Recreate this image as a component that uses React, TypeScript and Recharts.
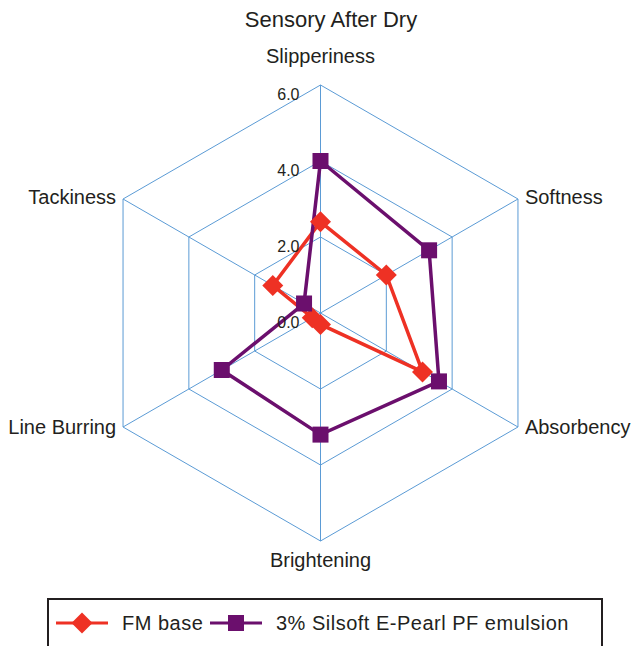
import { PolarAngleAxis, PolarGrid, PolarRadiusAxis, Radar, RadarChart, Legend } from 'recharts';

const CATEGORIES = ['Slipperiness', 'Softness', 'Absorbency', 'Brightening', 'Line Burring', 'Tackiness'];
const FM_BASE = [2.4, 2.0, 3.1, 0.3, 0.25, 1.45];
const SILSOFT = [4.0, 3.3, 3.6, 3.2, 3.0, 0.5];
const RADIUS_TICKS = [0, 2, 4, 6];

const SERIES = [
  { key: 'fm', name: 'FM base', color: '#ee3124', shape: 'diamond' },
  { key: 'silsoft', name: '3% Silsoft E-Pearl PF emulsion', color: '#6b0f6d', shape: 'square' },
];

const data = CATEGORIES.map((axis, i) => ({ axis, fm: FM_BASE[i], silsoft: SILSOFT[i] }));

const CX = 320.5;
const CY = 313;
const FONT = '"Liberation Sans", Arial, sans-serif';
const TEXT = '#231f20';
const GRID = '#5b9bd5';

function Marker({ shape, x, y, color }: { shape: string; x: number; y: number; color: string }) {
  if (shape === 'diamond') {
    const h = 10.5;
    return <path d={`M${x},${y - h}L${x + h},${y}L${x},${y + h}L${x - h},${y}Z`} fill={color} />;
  }
  const h = 8;
  return <rect x={x - h} y={y - h} width={h * 2} height={h * 2} fill={color} />;
}

function angleTick(props: any) {
  const { x, y, payload, textAnchor } = props;
  let dy = 9;
  if (textAnchor === 'middle') dy = y < CY ? -14 : 18;
  else if (y > CY) dy = 3;
  return (
    <text x={x} y={y} dy={dy} textAnchor={textAnchor} fontSize={20} fill={TEXT} fontFamily={FONT}>
      {payload.value}
    </text>
  );
}

function radiusTick(props: any) {
  const { x, y, payload } = props;
  return (
    <text x={x - 21} y={y} dy={15} textAnchor="end" fontSize={16} fill={TEXT} fontFamily={FONT}>
      {Number(payload.value).toFixed(1)}
    </text>
  );
}

function LegendBox() {
  return (
    <div
      style={{
        boxSizing: 'border-box',
        width: 556,
        height: 60,
        border: `2px solid ${TEXT}`,
        background: '#fff',
      }}
    >
      <svg width={552} height={56}>
        {SERIES.map((s, i) => {
          const x0 = i === 0 ? 7 : 161;
          return (
            <g key={s.key}>
              <line x1={x0} x2={x0 + 52} y1={23} y2={23} stroke={s.color} strokeWidth={3} />
              <Marker shape={s.shape} x={x0 + 26} y={23} color={s.color} />
              <text x={x0 + 66} y={23} dy={7} fontSize={20} letterSpacing={0.5} fill={TEXT} fontFamily={FONT}>
                {s.name}
              </text>
            </g>
          );
        })}
      </svg>
    </div>
  );
}

export default function App() {
  return (
    <div
      style={{
        position: 'absolute',
        left: 0,
        top: 0,
        width: 632,
        height: 646,
        overflow: 'hidden',
        background: '#fff',
        fontFamily: FONT,
      }}
    >
      <div
        style={{
          position: 'absolute',
          left: 0,
          top: 7,
          width: 662,
          textAlign: 'center',
          fontSize: 22,
          color: TEXT,
        }}
      >
        Sensory After Dry
      </div>
      <RadarChart width={632} height={646} data={data} cx={CX} cy={CY} outerRadius={228} margin={{ top: 0, right: 0, bottom: 0, left: 0 }}>
        <PolarGrid gridType="polygon" stroke={GRID} strokeWidth={1} />
        <PolarAngleAxis dataKey="axis" tick={angleTick} tickLine={false} axisLine={false} />
        <PolarRadiusAxis
          angle={90}
          domain={[0, 6]}
          ticks={RADIUS_TICKS}
          tick={radiusTick}
          axisLine={false}
          tickLine={false}
        />
        {SERIES.map((s) => (
          <Radar
            key={s.key}
            name={s.name}
            dataKey={s.key}
            stroke={s.color}
            strokeWidth={3.5}
            fill="none"
            fillOpacity={0}
            isAnimationActive={false}
            dot={(p: any) => <Marker key={`${s.key}-${p.index}`} shape={s.shape} x={p.cx} y={p.cy} color={s.color} />}
          />
        ))}
        <Legend
          content={() => <LegendBox />}
          wrapperStyle={{ position: 'absolute', left: 47, top: 598, width: 556, height: 60 }}
        />
      </RadarChart>
    </div>
  );
}
